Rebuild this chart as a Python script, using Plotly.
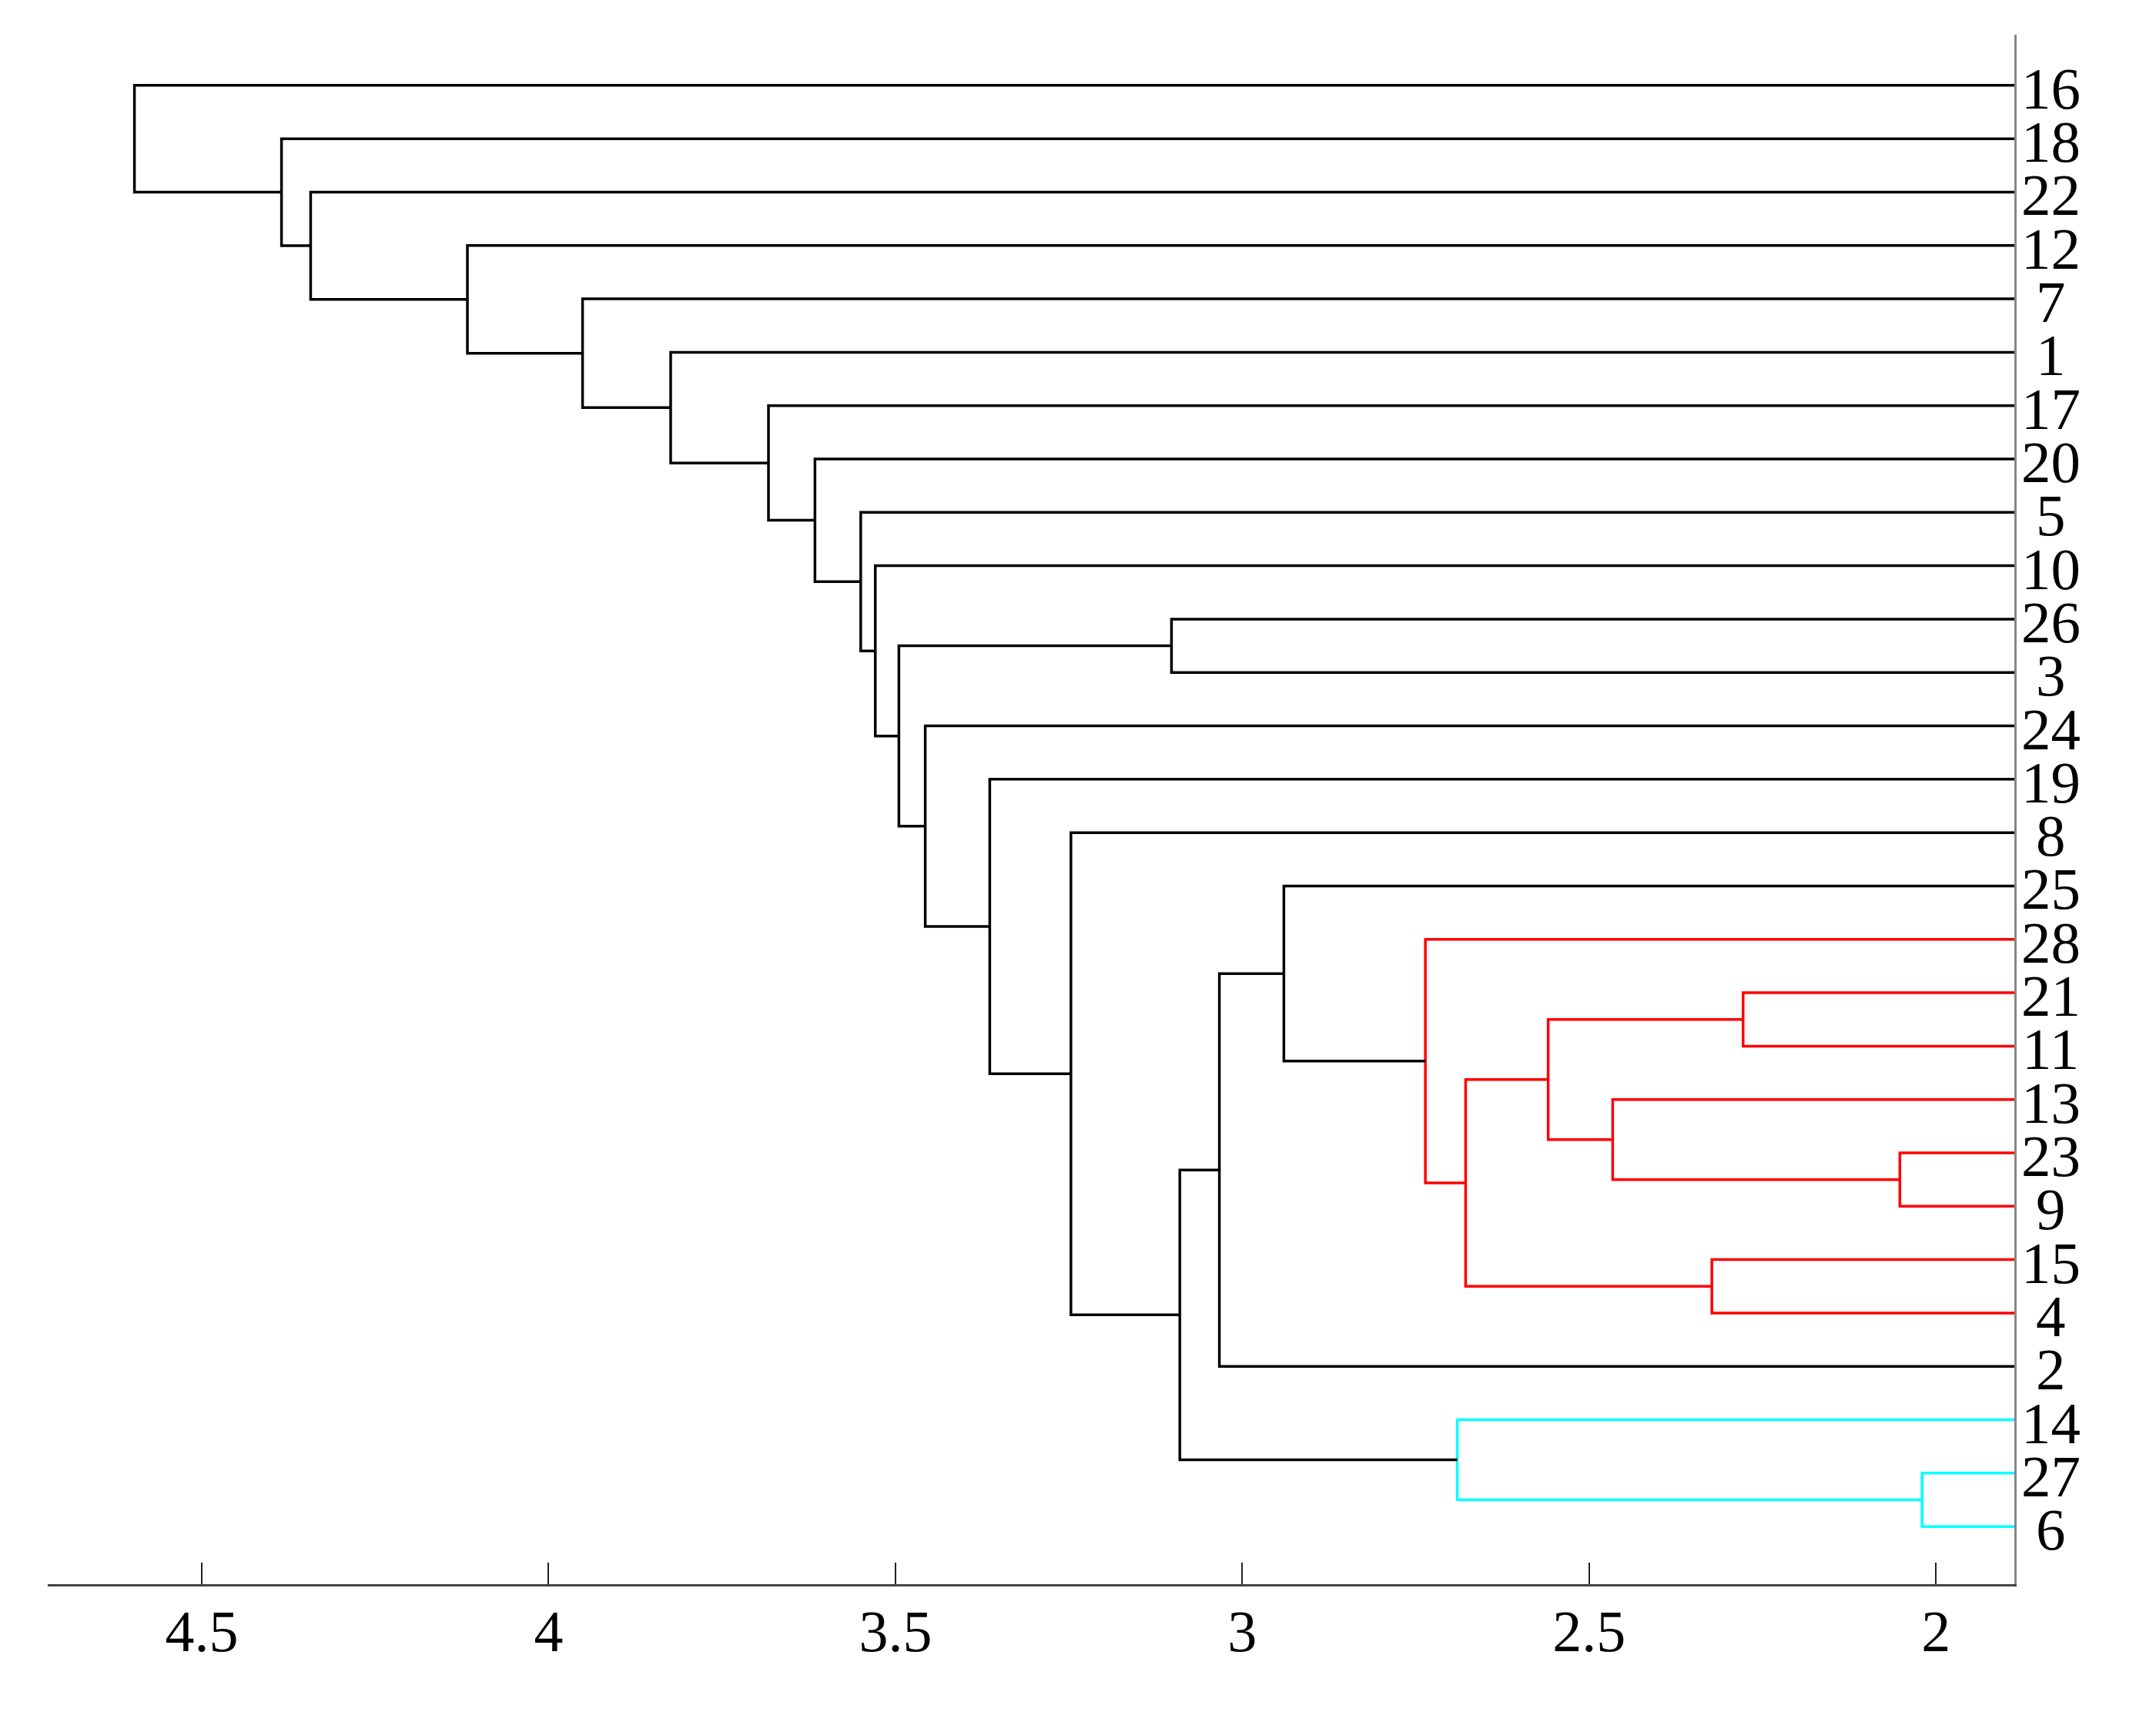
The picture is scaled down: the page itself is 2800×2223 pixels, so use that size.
import plotly.graph_objects as go

# leaves, top to bottom
leaf_order = ["16", "18", "22", "12", "7", "1", "17", "20", "5", "10", "26", "3", "24",
              "19", "8", "25", "28", "21", "11", "13", "23", "9", "15", "4", "2", "14", "27", "6"]

# linkage: node = (left, right) at height
merge_node = ["A", "B", "C", "D", "E", "F", "G", "H", "I", "J", "K", "L", "M", "N",
              "O", "P", "Q", "R", "S", "T", "U", "V", "W", "X", "Y", "Z", "root"]
merge_left = ["21", "23", "13", "A", "15", "D", "28", "25", "H", "27", "14", "I", "8", "19",
              "24", "26", "P", "10", "5", "20", "17", "1", "7", "12", "22", "18", "16"]
merge_right = ["11", "9", "B", "C", "4", "E", "F", "G", "2", "6", "J", "K", "L", "M",
               "N", "3", "O", "Q", "R", "S", "T", "U", "V", "W", "X", "Y", "Z"]
merge_height = [2.278, 2.052, 2.466, 2.559, 2.323, 2.678, 2.736, 2.940, 3.033, 2.020, 2.690,
                3.090, 3.247, 3.364, 3.457, 3.102, 3.495, 3.529, 3.550, 3.616, 3.683, 3.824,
                3.951, 4.117, 4.343, 4.385, 4.597]
merge_color = ["red", "red", "red", "red", "red", "red", "red", "black", "black", "cyan",
               "cyan", "black", "black", "black", "black", "black", "black", "black", "black",
               "black", "black", "black", "black", "black", "black", "black", "black"]

x_ticks = [2, 2.5, 3, 3.5, 4, 4.5]
x_ticktext = ["2", "2.5", "3", "3.5", "4", "4.5"]

line_colors = {"red": "#ff0000", "cyan": "#00ffff", "black": "#000000"}
FONT = "Liberation Serif"

# node positions: leaves sit at height 0 (clipped at the axis edge)
pos = {lab: (0.0, i + 1) for i, lab in enumerate(leaf_order)}
segs = {"red": ([], []), "cyan": ([], []), "black": ([], [])}
for node, a, b, h, c in zip(merge_node, merge_left, merge_right, merge_height, merge_color):
    xa, ya = pos[a]
    xb, yb = pos[b]
    xs, ys = segs[c]
    xs += [xa, h, h, xb, None]
    ys += [ya, ya, yb, yb, None]
    pos[node] = (h, (ya + yb) / 2)

fig = go.Figure()
for c, (xs, ys) in segs.items():
    fig.add_trace(go.Scatter(x=xs, y=ys, mode="lines",
                             line=dict(color=line_colors[c], width=3.5),
                             hoverinfo="skip"))

for i, lab in enumerate(leaf_order):
    fig.add_annotation(x=1, xref="paper", y=i + 1, yref="y", text=lab,
                       showarrow=False, xanchor="center", xshift=47, yshift=-4,
                       font=dict(family=FONT, size=77, color="black"))

fig.update_layout(
    width=2800, height=2223,
    margin=dict(l=54, r=192, t=37, b=174),
    plot_bgcolor="white", paper_bgcolor="white",
    showlegend=False,
    font=dict(family=FONT, size=76, color="black"),
    xaxis=dict(range=[4.722, 1.887], showgrid=False, zeroline=False,
               showline=True, linecolor="#444444", linewidth=3,
               ticks="inside", ticklen=28, tickwidth=2, tickcolor="#222222",
               tickvals=x_ticks, ticktext=x_ticktext, ticklabelstandoff=-7,
               tickfont=dict(family=FONT, size=76, color="black")),
    yaxis=dict(range=[29.08, 0.05], showgrid=False, zeroline=False,
               showline=True, linecolor="#888888", linewidth=3, side="right",
               showticklabels=False, ticks=""),
)

fig.write_html("out.html")
